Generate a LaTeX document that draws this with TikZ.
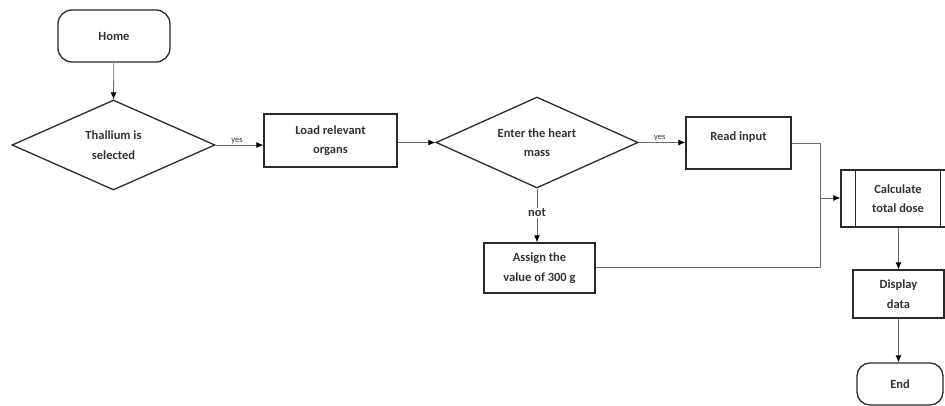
\documentclass[tikz,border=0pt]{standalone}
\usepackage{fontspec}
\setmainfont{Carlito}
\usetikzlibrary{shapes.geometric,arrows.meta,calc}
\definecolor{bordc}{HTML}{2A2A2A}
\definecolor{linec}{HTML}{6E6E6E}
\definecolor{txtc}{HTML}{333333}
\begin{document}
\begin{tikzpicture}[x=1pt,y=-1pt,
  every node/.style={font=\fontsize{12.5}{19.5}\selectfont\bfseries, text=txtc, align=center},
  boxst/.style={draw=bordc, line width=1.3pt, rectangle, inner sep=0pt},
  termst/.style={draw=bordc, line width=1.3pt, rectangle, rounded corners=14pt, inner sep=0pt},
  decst/.style={draw=bordc, line width=1.3pt, diamond, aspect=2.25, inner sep=0pt},
  conn/.style={draw=linec, line width=0.8pt},
  arr/.style={conn, -{Latex[length=7pt,width=6pt,color=black]}},
  smalllab/.style={font=\fontsize{8.5}{9}\selectfont, text=txtc, inner sep=1pt}
]
\useasboundingbox (0,0) rectangle (945,406);
\clip (0,0) rectangle (945,406);

\node[termst, minimum width=112pt, minimum height=52pt] (home) at (114,36) {Home};
\node[decst, minimum width=203pt, minimum height=90pt] (thal) at (113.5,145) {Thallium is\\selected};
\node[boxst, minimum width=133pt, minimum height=53pt] (load) at (330.5,140.5) {Load relevant\\organs};
\node[decst, minimum width=202pt, minimum height=91pt] (enter) at (537,142.5) {Enter the heart\\mass};
\node[boxst, minimum width=105pt, minimum height=52pt, text depth=13pt] (read) at (738.5,143) {Read input};
\node[boxst, minimum width=111pt, minimum height=50pt] (assign) at (539.5,268) {Assign the\\value of 300 g};
\node[boxst, minimum width=114pt, minimum height=57pt] (calc) at (898,198.5) {Calculate\\total dose};
\draw[bordc, line width=1.3pt] ($(calc.north west)+(15,0)$) -- ($(calc.south west)+(15,0)$);
\draw[bordc, line width=1.3pt] ($(calc.north east)+(-15,0)$) -- ($(calc.south east)+(-15,0)$);
\node[boxst, minimum width=91pt, minimum height=48pt] (disp) at (898.5,294) {Display\\data};
\node[termst, minimum width=86pt, minimum height=42pt, rounded corners=13pt] (end) at (900,384) {End};

\coordinate (j1) at (820,143);
\coordinate (j2) at (820,198);
\coordinate (j3) at (820,267);

\draw[arr] (home) -- (thal.north);
\draw[arr] (thal.east) -- (load.west |- thal.east) node[smalllab, pos=0.45, anchor=south] (yes1) {yes};
\draw[arr] (load.east |- enter.west) -- (enter.west);
\draw[arr] (enter.east) -- (read.west |- enter.east) node[smalllab, pos=0.45, anchor=south] (yes2) {yes};
\draw[arr] (enter.south) -- (enter.south |- assign.north) node[pos=0.45, fill=white, inner sep=1pt, font=\fontsize{12.5}{14}\selectfont\bfseries] (notlab) {not};
\draw[conn] (read.east) -- (j1) -- (j3) -- (assign.east |- j3);
\draw[arr] (j2) -- (calc.west |- j2);
\draw[arr] (calc.south -| disp.north) -- (disp.north);
\draw[arr] (disp.south) -- (disp.south |- end.north);
\end{tikzpicture}
\end{document}
